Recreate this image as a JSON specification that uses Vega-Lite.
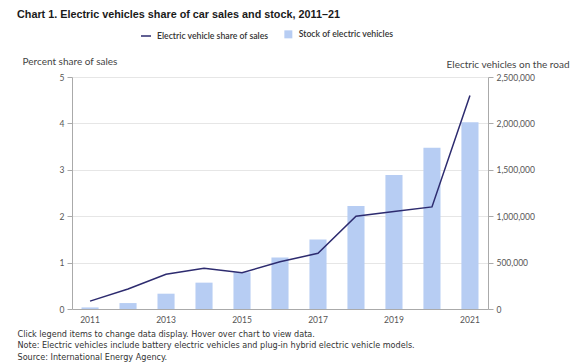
{
  "$schema": "https://vega.github.io/schema/vega-lite/v6.json",
  "autosize": {"type": "none"},
  "padding": {"left": 72, "top": 77, "right": 83, "bottom": 54},
  "width": 416,
  "height": 232,
  "background": "white",
  "title": {
    "text": "Chart 1. Electric vehicles share of car sales and stock, 2011–21",
    "anchor": "start",
    "frame": "group",
    "dx": -55,
    "font": "Liberation Sans",
    "fontSize": 10.8,
    "fontWeight": "bold",
    "color": "#1a1a1a",
    "offset": 10
  },
  "config": {
    "view": {"stroke": null},
    "axis": {
      "labelFont": "Lato",
      "labelFontSize": 8.5,
      "labelColor": "#555555",
      "titleFont": "Lato",
      "titleFontSize": 10,
      "titleFontWeight": "normal",
      "titleColor": "#444444",
      "domainColor": "#aaaaaa",
      "tickColor": "#aaaaaa",
      "gridColor": "#e6e6e6"
    },
    "legend": {
      "labelFont": "Lato",
      "labelFontSize": 8.7,
      "labelFontWeight": 600,
      "labelColor": "#333333",
      "padding": 0
    }
  },
  "data": {
    "values": [
      {"year": 2011, "share": 0.17, "stock": 17000},
      {"year": 2012, "share": 0.43, "stock": 64000},
      {"year": 2013, "share": 0.75, "stock": 165000},
      {"year": 2014, "share": 0.88, "stock": 284000},
      {"year": 2015, "share": 0.78, "stock": 396000},
      {"year": 2016, "share": 1.02, "stock": 555000},
      {"year": 2017, "share": 1.2, "stock": 748000},
      {"year": 2018, "share": 2.0, "stock": 1110000},
      {"year": 2019, "share": 2.1, "stock": 1443000},
      {"year": 2020, "share": 2.2, "stock": 1737000},
      {"year": 2021, "share": 4.6, "stock": 2012000}
    ]
  },
  "encoding": {
    "x": {
      "field": "year",
      "type": "ordinal",
      "scale": {"paddingInner": 0.55, "paddingOuter": 0.25},
      "axis": {
        "values": [2011, 2013, 2015, 2017, 2019, 2021],
        "labelAngle": 0,
        "ticks": false,
        "labelPadding": 6,
        "title": [
          "Click legend items to change data display. Hover over chart to view data.",
          "Note: Electric vehicles include battery electric vehicles and plug-in hybrid electric vehicle models.",
          "Source: International Energy Agency."
        ],
        "titleFont": "DejaVu Sans",
        "titleFontSize": 8.1,
        "titleColor": "#333333",
        "titleAlign": "left",
        "titleAnchor": "start",
        "titleBaseline": "top",
        "titleX": -55,
        "titleY": 21,
        "titleLineHeight": 11.8
      }
    }
  },
  "layer": [
    {
      "mark": {"type": "bar", "color": "#b7cdf3"},
      "encoding": {
        "y": {
          "field": "stock",
          "type": "quantitative",
          "scale": {"domain": [0, 2500000]},
          "axis": {
            "orient": "right",
            "format": ",d",
            "tickCount": 5,
            "grid": false,
            "tickSize": 5,
            "labelPadding": 3,
            "title": "Electric vehicles on the road",
            "titleAngle": 0,
            "titleAlign": "right",
            "titleBaseline": "middle",
            "titleX": 81,
            "titleY": -13
          }
        },
        "fill": {
          "datum": "Stock of electric vehicles",
          "scale": {"range": ["#b7cdf3"]},
          "legend": {
            "title": null,
            "orient": "none",
            "legendX": 212,
            "legendY": -47,
            "symbolType": "square",
            "symbolSize": 64,
            "symbolStrokeWidth": 0,
            "labelOffset": 6
          }
        }
      }
    },
    {
      "mark": {"type": "line", "color": "#2d2b6f", "strokeWidth": 1.5},
      "encoding": {
        "y": {
          "field": "share",
          "type": "quantitative",
          "scale": {"domain": [0, 5]},
          "axis": {
            "orient": "left",
            "tickCount": 5,
            "grid": true,
            "tickSize": 5,
            "labelPadding": 3,
            "title": "Percent share of sales",
            "titleAngle": 0,
            "titleAlign": "left",
            "titleBaseline": "middle",
            "titleX": -50,
            "titleY": -16
          }
        },
        "stroke": {
          "datum": "Electric vehicle share of sales",
          "scale": {"range": ["#2d2b6f"]},
          "legend": {
            "title": null,
            "orient": "none",
            "legendX": 68,
            "legendY": -47,
            "symbolType": "stroke",
            "symbolSize": 100,
            "symbolStrokeWidth": 1.5,
            "labelOffset": 5
          }
        }
      }
    }
  ],
  "resolve": {"scale": {"y": "independent", "fill": "independent", "stroke": "independent"}}
}
